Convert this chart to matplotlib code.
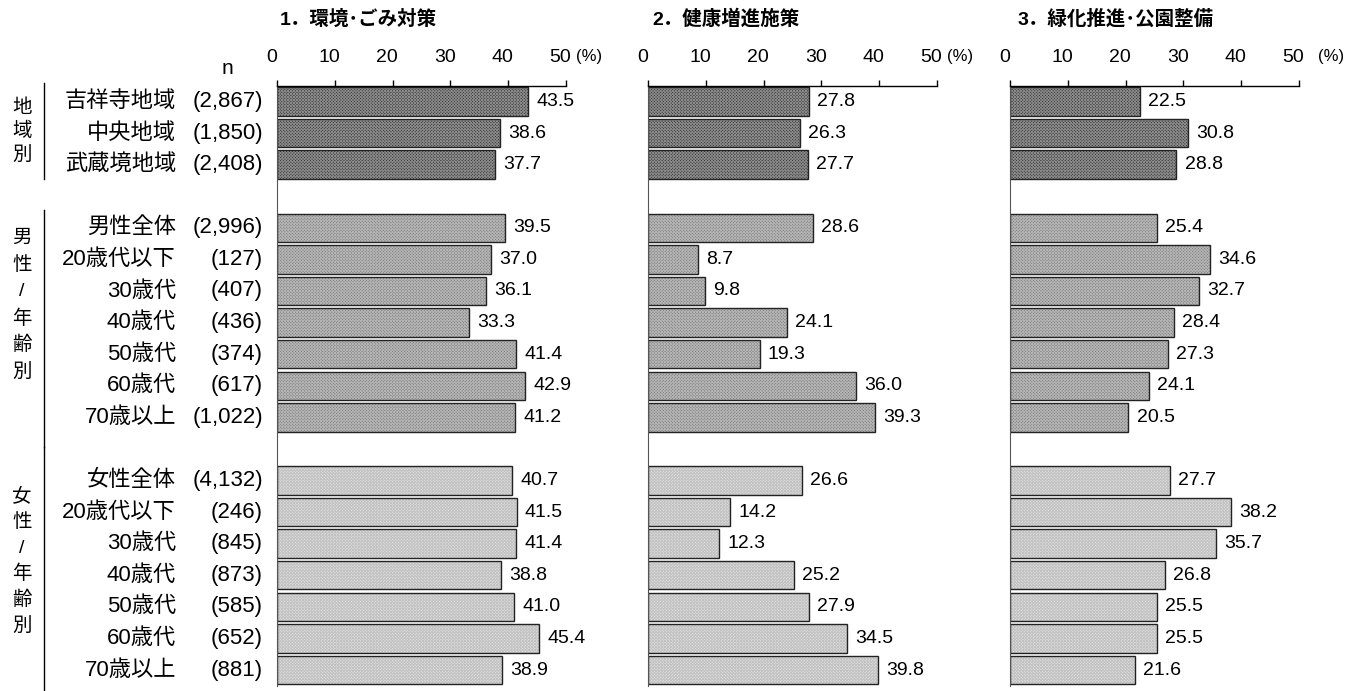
import matplotlib
matplotlib.use("Agg")
import matplotlib.pyplot as plt
from matplotlib.transforms import blended_transform_factory
from matplotlib.lines import Line2D

plt.rcParams['font.family'] = ['Liberation Sans', 'Noto Sans CJK JP', 'DejaVu Sans']
plt.rcParams['hatch.linewidth'] = 0.7

# データ
categories = ['吉祥寺地域', '中央地域', '武蔵境地域',
              '男性全体', '20歳代以下', '30歳代', '40歳代', '50歳代', '60歳代', '70歳以上',
              '女性全体', '20歳代以下', '30歳代', '40歳代', '50歳代', '60歳代', '70歳以上']
n_labels = ['(2,867)', '(1,850)', '(2,408)',
            '(2,996)', '(127)', '(407)', '(436)', '(374)', '(617)', '(1,022)',
            '(4,132)', '(246)', '(845)', '(873)', '(585)', '(652)', '(881)']
vals_1 = [43.5, 38.6, 37.7, 39.5, 37.0, 36.1, 33.3, 41.4, 42.9, 41.2,
          40.7, 41.5, 41.4, 38.8, 41.0, 45.4, 38.9]
vals_2 = [27.8, 26.3, 27.7, 28.6, 8.7, 9.8, 24.1, 19.3, 36.0, 39.3,
          26.6, 14.2, 12.3, 25.2, 27.9, 34.5, 39.8]
vals_3 = [22.5, 30.8, 28.8, 25.4, 34.6, 32.7, 28.4, 27.3, 24.1, 20.5,
          27.7, 38.2, 35.7, 26.8, 25.5, 25.5, 21.6]
titles = ['1．環境･ごみ対策', '2．健康増進施策', '3．緑化推進･公園整備']
group_names = ['地域別', '男性/年齢別', '女性/年齢別']
group_sizes = [3, 7, 7]
ticks = [0, 10, 20, 30, 40, 50]

# 行位置（グループ間に空行）
pos = []
gid = []
s = 0
for g, n in enumerate(group_sizes):
    for i in range(n):
        pos.append(s)
        gid.append(g)
        s += 1
    s += 1
nslot = pos[-1] + 1

faces = ['#363636', '#7e7e7e', '#e4e4e4']
hatchc = ['#8a8a8a', '#b4b4b4', '#c2c2c2']

W, H = 1358, 691
fig = plt.figure(figsize=(W / 100, H / 100), dpi=100)

top_px, bot_px = 85.7, 685.8
lefts = [277, 648, 1010]
width_px = 289
title_x = [280, 652, 1018]
pct_off = [4.0, 4.0, 5.5]

axes = []
for k, vals in enumerate([vals_1, vals_2, vals_3]):
    ax = fig.add_axes([lefts[k] / W, 1 - bot_px / H, width_px / W, (bot_px - top_px) / H])
    axes.append(ax)
    cols = [faces[g] for g in gid]
    hc = [hatchc[g] for g in gid]
    ax.barh(pos, vals, height=0.9, color=cols, edgecolor='none')
    ax.barh(pos, vals, height=0.9, color='none', edgecolor=hc, hatch='x' * 11, linewidth=0)
    ax.barh(pos, vals, height=0.9, color='none', edgecolor='#222222', linewidth=1.0)
    for p, v in zip(pos, vals):
        ax.text(v + 1.4, p, f'{v:.1f}', va='center', ha='left', fontsize=14, clip_on=False)
    ax.set_xlim(0, 50)
    ax.set_ylim(nslot - 0.5, -0.5)
    for sp in ['right', 'bottom']:
        ax.spines[sp].set_visible(False)
    ax.spines['left'].set_color('#555555')
    ax.spines['top'].set_color('black')
    ax.spines['top'].set_linewidth(1.0)
    ax.xaxis.tick_top()
    ax.set_xticks(ticks)
    ax.set_xticklabels([])
    ax.set_yticks([])
    ax.tick_params(axis='x', direction='out', length=4, width=1, colors='black')
    # 目盛ラベル（少し左寄せ）
    tr = blended_transform_factory(ax.transData, fig.transFigure)
    for t in ticks:
        ax.text(t - 1.0, 1 - 58 / H, str(t), transform=tr, ha='center', va='center',
                fontsize=14, clip_on=False)
    ax.text(50 + pct_off[k], 1 - 56 / H, '(%)', transform=tr, ha='center', va='center',
            fontsize=12, clip_on=False)
    fig.text(title_x[k] / W, 1 - 19 / H, titles[k], ha='left', va='center',
             fontsize=14, fontweight='bold')

# 左側ラベル
ax0 = axes[0]
trl = blended_transform_factory(fig.transFigure, ax0.transData)
for p, c, n in zip(pos, categories, n_labels):
    ax0.text(176 / W, p, c, transform=trl, ha='right', va='center', fontsize=16, clip_on=False)
    ax0.text(263 / W, p, n, transform=trl, ha='right', va='center', fontsize=16, clip_on=False)
fig.text(227 / W, 1 - 68 / H, 'n', ha='center', va='center', fontsize=15)

# グループ見出し（縦書き）と区切り線
starts = [0.2, 4.35, 12.5]
steps = [0.74, 0.84, 0.82]
line_spans = [(-0.6, 2.45), (3.45, 10.95), (10.95, 18.7)]
for g, name in enumerate(group_names):
    for j, ch in enumerate(name):
        ax0.text(22 / W, starts[g] + steps[g] * j, ch, transform=trl, ha='center', va='center',
                 fontsize=14, clip_on=False)
    y0, y1 = line_spans[g]
    ax0.add_line(Line2D([44 / W, 44 / W], [y0, y1], transform=trl, color='black',
                        linewidth=1.0, clip_on=False))

fig.savefig('out.png', dpi=100)
